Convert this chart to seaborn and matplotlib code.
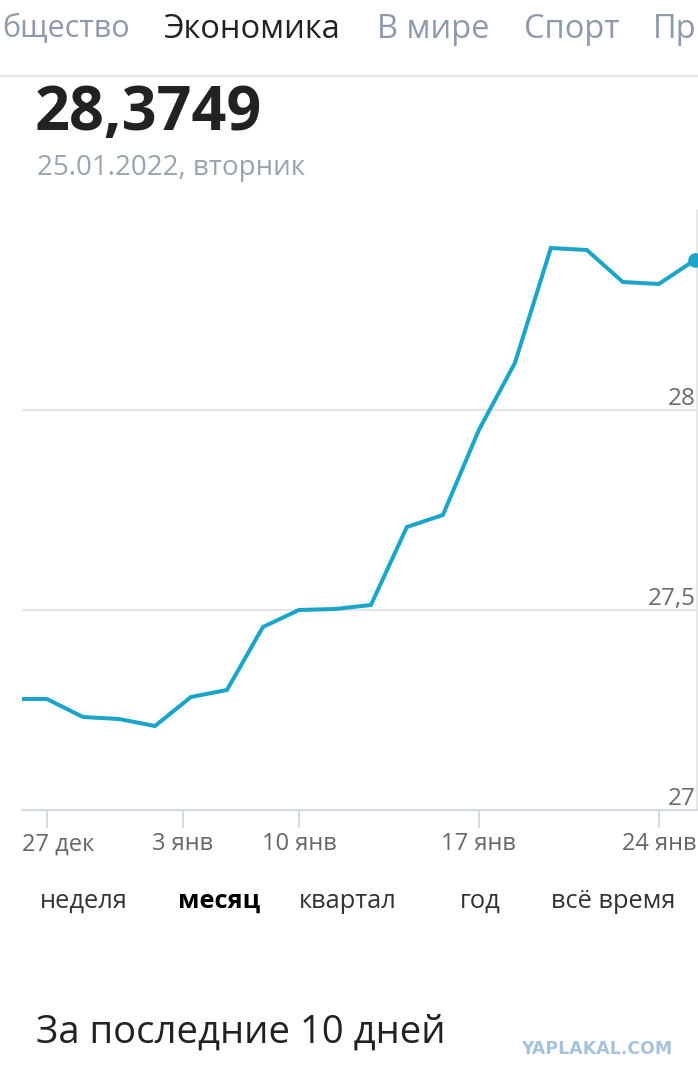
import matplotlib
matplotlib.use('Agg')
import matplotlib.pyplot as plt
import seaborn as sns
import pandas as pd
from matplotlib.transforms import ScaledTranslation

# ---- data ----
day_index = list(range(-1, 19))
rates = [27.2775, 27.2775, 27.2325, 27.2275, 27.21, 27.2825, 27.30, 27.4575,
         27.50, 27.5025, 27.5125, 27.7075, 27.7375, 27.95, 28.1175, 28.405,
         28.40, 28.32, 28.315, 28.3749]
tick_pos = [0, 3.78, 7, 12, 17]
tick_labels = ['27 дек', '3 янв', '10 янв', '17 янв', '24 янв']
y_ticks = [27.0, 27.5, 28.0]
y_tick_labels = ['27', '27,5', '28']
nav_items = ['бщество', 'Экономика', 'В мире', 'Спорт', 'Пр']
range_items = ['неделя', 'месяц', 'квартал', 'год', 'всё время']
current_value = '28,3749'
current_date = '25.01.2022, вторник'

sns.set_theme(style='white')
plt.rcParams['font.family'] = ['Open Sans', 'DejaVu Sans']

W, H = 698, 1079
fig = plt.figure(figsize=(W / 100, H / 100), dpi=100)

def fx(x):
    return x / W

def fy(y):
    return 1 - y / H

LINE = '#1ba6c9'
GREY = '#8e99ab'

ax = fig.add_axes([fx(22), fy(810), fx(697) - fx(22), fy(210) - fy(810)])
df = pd.DataFrame({'day': day_index, 'rate': rates})
sns.lineplot(data=df, x='day', y='rate', ax=ax, color=LINE, linewidth=2.9,
             solid_joinstyle='miter', zorder=3)
ax.plot(df['day'].iloc[-1:], df['rate'].iloc[-1:], 'o', color=LINE,
        markersize=9.5, zorder=4, clip_on=True)

ax.set_xlim(-0.694, 18.06)
ax.set_ylim(27.0, 28.5)
ax.set_xlabel('')
ax.set_ylabel('')

for s in ['top', 'left']:
    ax.spines[s].set_visible(False)
ax.spines['bottom'].set_color('#d3dae3')
ax.spines['bottom'].set_linewidth(1.5)
ax.spines['right'].set_color('#e3e3e3')
ax.spines['right'].set_linewidth(1.2)

for yv in y_ticks[1:]:
    ax.axhline(yv, color='#e6e6e6', linewidth=1.5, zorder=1)

ax.set_yticks([])
for yv, lab in zip(y_ticks, y_tick_labels):
    t = ax.text(0.998, yv, lab, transform=ax.get_yaxis_transform(), ha='right',
                va='baseline', fontsize=17.5, color='#6b6b6b')
    t.set_transform(t.get_transform() + ScaledTranslation(0, 0.05, fig.dpi_scale_trans))

ax.set_xticks(tick_pos)
ax.set_xticklabels(tick_labels, fontsize=17, color='#666666')
ax.tick_params(axis='x', length=13, width=1.3, color='#d3dae3', pad=3,
               bottom=True, direction='out')
first = ax.get_xticklabels()[0]
first.set_transform(first.get_transform() + ScaledTranslation(0.115, 0, fig.dpi_scale_trans))

# ---- header ----
nav_y = fy(29)
fig.text(fx(2), nav_y, nav_items[0], ha='left', va='center', fontsize=22, color=GREY)
fig.text(fx(163), nav_y, nav_items[1], ha='left', va='center', fontsize=23.5, color='#222222')
fig.text(fx(377), nav_y, nav_items[2], ha='left', va='center', fontsize=23.5, color=GREY)
fig.text(fx(524), nav_y, nav_items[3], ha='left', va='center', fontsize=23.5, color=GREY)
fig.text(fx(696), nav_y, nav_items[4], ha='right', va='center', fontsize=23.5, color=GREY)
fig.add_artist(plt.Line2D([0, 1], [fy(76), fy(76)], color='#e6e6e6', linewidth=1.5,
                          transform=fig.transFigure))

fig.text(fx(35), fy(114), current_value, ha='left', va='center', fontsize=44,
         fontweight='bold', color='#222222')
fig.text(fx(37), fy(168), current_date, ha='left', va='center', fontsize=20,
         color='#9aa3b0')

# ---- range selector ----
sel_y = fy(901)
range_x = [40, 178, 299, 460, 551]
for x, lab in zip(range_x, range_items):
    fig.text(fx(x), sel_y, lab, ha='left', va='center', fontsize=18.3,
             color='#000000' if lab == 'месяц' else '#333333',
             fontweight='bold' if lab == 'месяц' else 'normal')

fig.text(fx(36), fy(1033), 'За последние 10 дней', ha='left', va='center',
         fontsize=27.5, color='#222222')
fig.text(fx(672), fy(1049), 'YAPLAKAL.COM', ha='right', va='center',
         fontsize=12.5, fontweight='bold', color='#a6c3db',
         family=['DejaVu Sans'])

fig.savefig('out.png', dpi=100)
